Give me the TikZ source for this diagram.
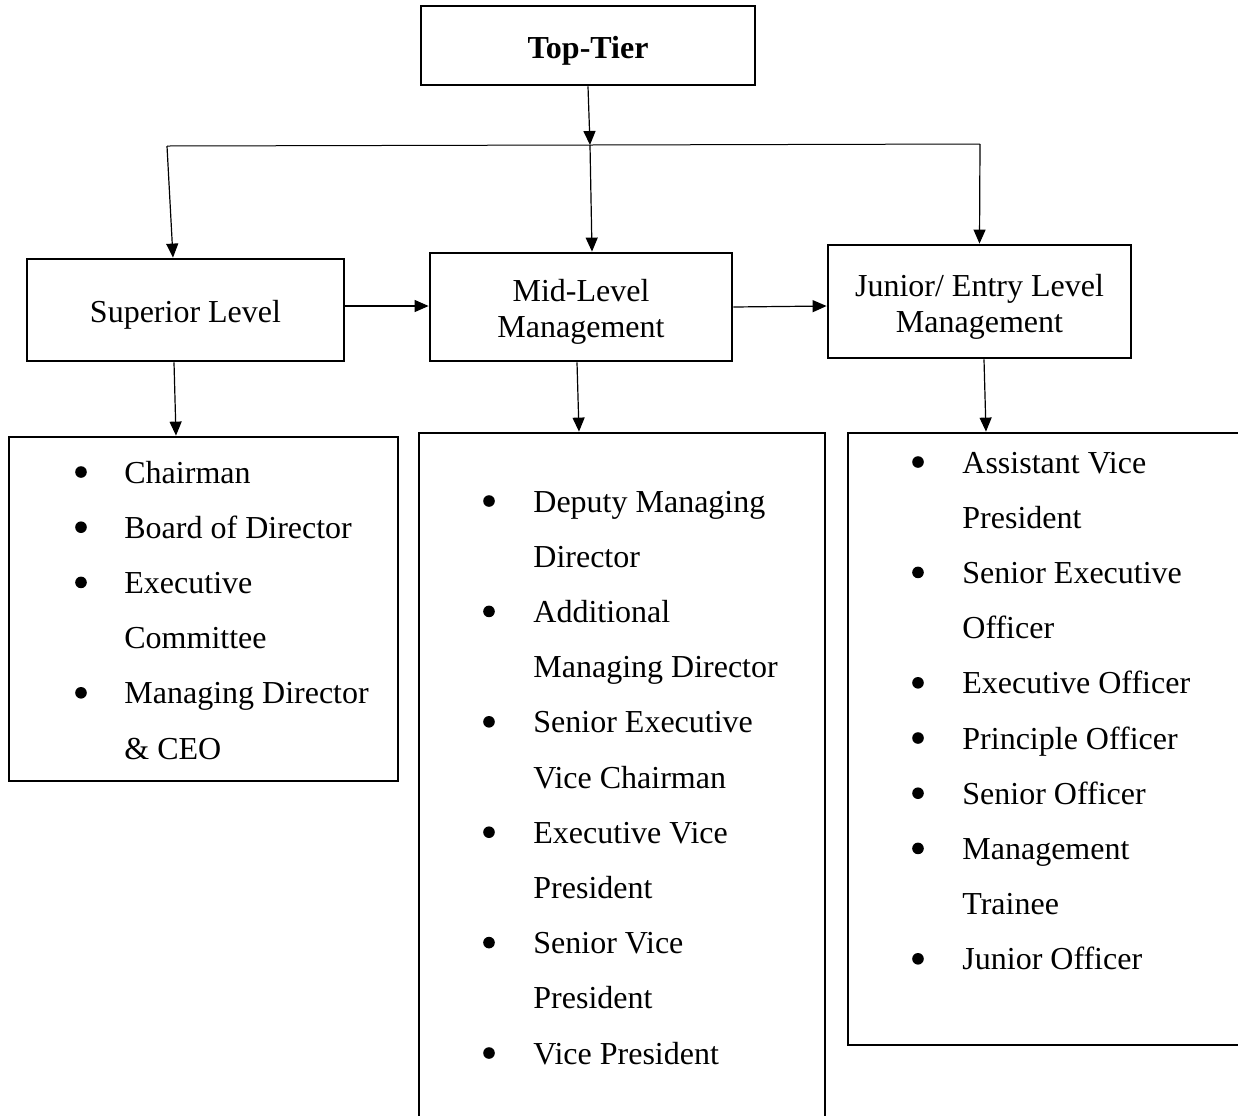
\documentclass[tikz,border=0pt]{standalone}
\usepackage{fontspec}
\setmainfont{Liberation Serif}
\usetikzlibrary{arrows.meta}
\newcommand\tstrut{\rule{0pt}{16pt}}

\begin{document}
\begin{tikzpicture}[x=0.5pt, y=-0.5pt,
    lvl/.style={draw, line width=1.4pt, align=center, inner sep=0pt,
      font=\fontsize{16}{18}\selectfont},
    lst/.style={draw, line width=1.4pt, inner sep=0pt},
    arr/.style={-{Triangle[length=7pt,width=6pt]}, line width=0.6pt},
    item/.style={anchor=base west, inner sep=0pt, font=\fontsize{16}{18}\selectfont},
    dot/.style={circle, fill, inner sep=0pt, minimum size=5.8pt}]
    \path[use as bounding box, clip] (0,0) rectangle (1238,1115);

    % tiers
    \node[lvl, minimum width=167pt, minimum height=39.5pt, font=\fontsize{16}{18}\selectfont\bfseries]
      (top) at (588,45.5) {\tstrut Top-Tier};
    \node[lvl, minimum width=158.5pt, minimum height=51pt] (sup) at (185.5,310) {\tstrut Superior Level};
    \node[lvl, minimum width=151pt, minimum height=54pt] (mid) at (581,307) {\tstrut Mid-Level\\Management};
    \node[lvl, minimum width=151.5pt, minimum height=56.5pt] (jun) at (979.5,301.5) {\tstrut Junior/ Entry Level\\Management};

    % list boxes
    \node[lst, minimum width=194.5pt, minimum height=172pt] (lsup) at (203.5,609) {};
    \node[lst, minimum width=203pt, minimum height=348.5pt] (lmid) at (622,781.5) {};
    \node[lst, minimum width=201pt, minimum height=306pt] (ljun) at (1049,739) {};

    % connectors
    \coordinate (bus) at (590,145);
    \coordinate (busL) at (167,146);
    \coordinate (busR) at (980,144);
    \draw[arr] (top.south) -- (bus);
    \draw[line width=0.5pt] (busL) -- (bus) -- (busR);
    \draw[arr] (busL) -- ([xshift=-6.25pt]sup.north);
    \draw[arr] (bus) -- ([xshift=5.5pt]mid.north);
    \draw[arr] (busR) -- (jun.north);
    \draw[arr] ([yshift=2pt]sup.east) -- ([yshift=0.5pt]mid.west);
    \draw[arr] (mid.east) -- ([yshift=-2.25pt]jun.west);
    \draw[arr] ([xshift=-5.75pt]sup.south) -- ([xshift=-13.75pt]lsup.north);
    \draw[arr] ([xshift=-2pt]mid.south) -- ([xshift=-21.5pt]lmid.north);
    \draw[arr] ([xshift=2.25pt]jun.south) -- ([xshift=-31.5pt]ljun.north);

    % items
    \foreach \b/\t [count=\i from 0] in {1/Chairman, 1/Board of Director, 1/Executive,
        0/Committee, 1/Managing Director, 0/\& CEO} {
      \node[item] (sup-\i) at (124,483+55.2*\i) {\t};
      \ifnum\b=1 \node[dot] (supdot-\i) at (81,472+55.2*\i) {};\fi
    }
    \foreach \b/\t [count=\i from 0] in {1/Deputy Managing, 0/Director, 1/Additional,
        0/Managing Director, 1/Senior Executive, 0/Vice Chairman, 1/Executive Vice,
        0/President, 1/Senior Vice, 0/President, 1/Vice President} {
      \node[item] (mid-\i) at (533,512+55.2*\i) {\t};
      \ifnum\b=1 \node[dot] (middot-\i) at (489,501+55.2*\i) {};\fi
    }
    \foreach \b/\t [count=\i from 0] in {1/Assistant Vice, 0/President, 1/Senior Executive,
        0/Officer, 1/Executive Officer, 1/Principle Officer, 1/Senior Officer,
        1/Management, 0/Trainee, 1/Junior Officer} {
      \node[item] (jun-\i) at (962,473+55.2*\i) {\t};
      \ifnum\b=1 \node[dot] (jundot-\i) at (918,462+55.2*\i) {};\fi
    }
\end{tikzpicture}
\end{document}
